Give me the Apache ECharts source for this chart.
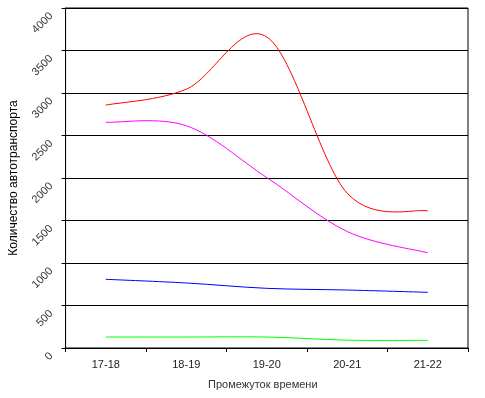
<!DOCTYPE html>
<html>
<head>
<meta charset="utf-8">
<script src="https://cdn.jsdelivr.net/npm/echarts@6/dist/echarts.min.js"></script>
<style>html,body{margin:0;padding:0;background:#fff;}#c{width:485px;height:398px;}</style>
</head>
<body>
<div id="c"></div>
<script>
const categories = ['17-18', '18-19', '19-20', '20-21', '21-22'];
const redValues = [2858, 3045, 3660, 1820, 1612];
const magentaValues = [2655, 2615, 2005, 1370, 1120];
const blueValues = [808, 765, 702, 682, 655];
const greenValues = [129, 129, 129, 92, 90];
const yTicks = { min: 0, max: 4000, interval: 500 };
const xTitle = 'Промежуток времени';
const yTitle = 'Количество автотранспорта';

const chart = echarts.init(document.getElementById('c'), null, { renderer: 'canvas' });
const font = 'Liberation Sans, Arial, sans-serif';

// Smoothed line (Catmull-Rom style, like spreadsheet smoothing) drawn segment by segment
function smoothSeries(name, values, color) {
  return {
    name: name, type: 'custom', clip: false,
    data: values.map(function (v, i) { return [i, v]; }),
    encode: { x: 0, y: 1 },
    renderItem: function (params, api) {
      const i = params.dataIndexInside;
      const n = params.dataInsideLength;
      if (i >= n - 1) return { type: 'group', children: [] };
      function pt(k) {
        k = Math.max(0, Math.min(n - 1, k));
        return api.coord([api.value(0, k), api.value(1, k)]);
      }
      const p0 = pt(i - 1), p1 = pt(i), p2 = pt(i + 1), p3 = pt(i + 2);
      return {
        type: 'bezierCurve',
        shape: {
          x1: p1[0], y1: p1[1], x2: p2[0], y2: p2[1],
          cpx1: p1[0] + (p2[0] - p0[0]) / 6, cpy1: p1[1] + (p2[1] - p0[1]) / 6,
          cpx2: p2[0] - (p3[0] - p1[0]) / 6, cpy2: p2[1] - (p3[1] - p1[1]) / 6
        },
        style: { stroke: color, lineWidth: 1, fill: null }
      };
    }
  };
}
chart.setOption({
  animation: false,
  backgroundColor: '#fff',
  grid: { left: 62, right: 17, top: 8, bottom: 50, show: true, borderColor: '#000', borderWidth: 1, backgroundColor: 'transparent' },
  xAxis: {
    type: 'category', data: categories, boundaryGap: true,
    name: xTitle, nameLocation: 'middle', nameGap: 31,
    nameTextStyle: { fontFamily: font, fontSize: 11, color: '#333', padding: [0, 8, 0, 0] },
    axisLine: { show: true, lineStyle: { color: '#000', width: 1 } },
    axisTick: { show: true, alignWithLabel: false, length: 4, lineStyle: { color: '#000' } },
    axisLabel: { fontFamily: font, fontSize: 11, color: '#222', margin: 11 },
    splitLine: { show: false }
  },
  yAxis: {
    type: 'value', min: yTicks.min, max: yTicks.max, interval: yTicks.interval,
    name: yTitle, nameLocation: 'middle', nameGap: 43, nameRotate: 90,
    nameTextStyle: { fontFamily: font, fontSize: 12, color: '#000' },
    axisLine: { show: true, lineStyle: { color: '#000', width: 1 } },
    axisTick: { show: true, length: 4, lineStyle: { color: '#000' } },
    axisLabel: {
      fontFamily: font, fontSize: 11, color: '#333', rotate: 45, margin: 8, padding: [8, 9, 0, 0],
      formatter: function (v) { return String(v); }
    },
    splitLine: { show: true, lineStyle: { color: '#000', width: 1 } }
  },
  series: [
    smoothSeries('Ряд 1', redValues, '#ff0000'),
    smoothSeries('Ряд 2', magentaValues, '#ff00ff'),
    smoothSeries('Ряд 3', blueValues, '#0000ff'),
    smoothSeries('Ряд 4', greenValues, '#00ff00')
  ]
});
</script>
</body>
</html>
